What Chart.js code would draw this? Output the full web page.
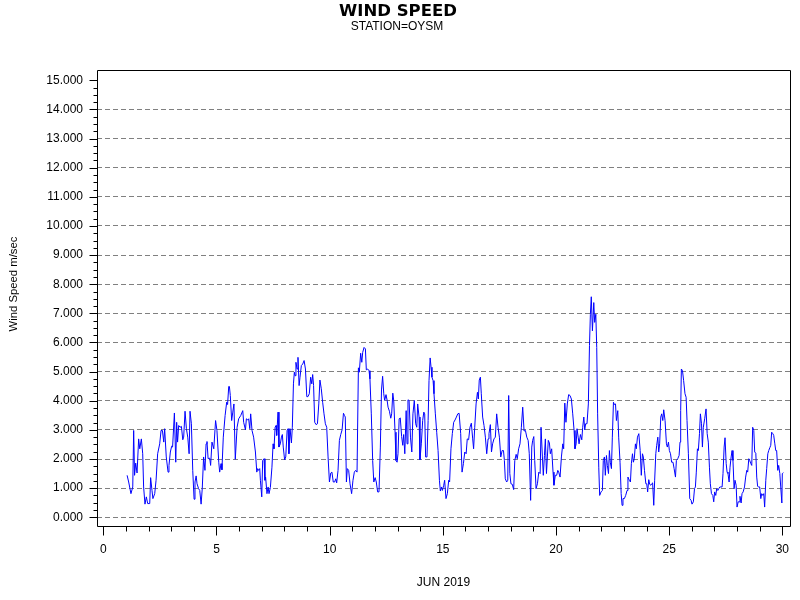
<!DOCTYPE html>
<html>
<head>
<meta charset="utf-8">
<script src="https://cdn.jsdelivr.net/npm/chart.js@4.4.1/dist/chart.umd.min.js"></script>
<style>
html,body{margin:0;padding:0;background:#ffffff;}
#wrap{width:800px;height:600px;}
</style>
</head>
<body>
<div id="wrap"><canvas id="c" width="800" height="600"></canvas></div>
<script>
const titleText = "WIND SPEED";
const subtitleText = "STATION=OYSM";
const xAxisTitle = "JUN 2019";
const yAxisTitle = "Wind Speed m/sec";

const xTickValues = [0, 5, 10, 15, 20, 25, 30];
const yTickValues = [0, 1, 2, 3, 4, 5, 6, 7, 8, 9, 10, 11, 12, 13, 14, 15];

// day of month (June 2019)
const days = [
1.05,1.12,1.22,1.30,1.34,1.38,1.43,1.49,1.56,1.61,1.68,1.74,1.78,1.84,1.90,1.96,2.05,2.09,2.15,2.19,2.27,2.33,2.40,2.49,2.55,2.61,2.67,2.71,2.78,2.86,2.90,2.96,3.02,3.06,3.14,3.20,3.24,3.28,3.33,3.39,3.45,3.51,3.55,3.61,3.67,3.73,3.79,3.83,3.89,3.95,4.01,4.05,4.10,4.14,4.21,4.26,4.32,4.37,4.43,4.49,4.54,4.58,4.63,4.70,4.74,4.80,4.88,4.96,5.02,5.10,5.14,5.20,5.24,5.30,5.38,5.45,5.49,5.54,
5.57,5.61,5.67,5.72,5.77,5.83,5.91,5.98,6.07,6.16,6.20,6.28,6.32,6.38,6.42,6.47,6.51,6.57,6.64,6.72,6.78,6.82,6.86,6.91,6.94,7.00,7.04,7.10,7.14,7.17,7.23,7.28,7.32,7.38,7.45,7.50,7.54,7.59,7.63,7.66,7.72,7.76,7.82,7.87,7.91,7.95,8.01,8.06,8.12,8.16,8.20,8.25,8.31,8.35,8.40,8.44,8.47,8.51,8.56,8.60,8.65,8.69,8.75,8.81,8.87,8.93,8.99,9.04,9.10,9.16,9.21,9.25,9.29,9.34,9.40,9.46,9.52,9.57,9.63,9.69,9.75,9.81,9.87,9.93,9.99,10.05,10.10,10.16,10.22,10.27,10.31,10.37,10.43,10.49,10.55,10.61,10.66,
10.69,10.74,10.78,10.84,10.90,10.97,11.03,11.09,11.15,11.21,11.27,11.31,11.37,11.42,11.46,11.52,11.58,11.62,11.68,11.74,11.78,11.84,11.90,11.95,12.01,12.06,12.12,12.18,12.24,12.29,12.34,12.39,12.43,12.49,12.54,12.58,12.64,12.70,12.74,12.79,12.83,12.89,12.93,12.98,13.02,13.07,13.12,13.18,13.23,13.27,13.32,13.38,13.42,13.46,13.51,13.57,13.63,13.68,13.74,13.80,13.85,13.89,13.95,13.99,14.05,14.11,14.16,14.20,14.24,14.30,14.35,14.39,14.44,14.48,14.52,14.57,14.61,14.67,14.73,14.79,14.85,14.89,14.94,14.98,15.04,15.08,15.14,15.20,15.26,15.30,15.36,15.42,15.48,15.54,15.60,15.66,15.72,
15.79,15.85,15.91,15.97,16.03,16.08,16.14,16.20,16.26,16.32,16.36,16.41,16.47,16.53,16.57,16.61,16.66,16.70,16.76,16.82,16.88,16.94,17.00,17.04,17.10,17.15,17.20,17.26,17.32,17.38,17.44,17.50,17.56,17.62,17.68,17.72,17.76,17.82,17.87,17.91,17.96,18.01,18.07,18.13,18.18,18.24,18.29,18.35,18.41,18.47,18.53,18.59,18.65,18.71,18.77,18.82,18.88,18.93,18.97,19.02,19.06,19.12,19.18,19.24,19.30,19.34,19.40,19.44,19.49,19.53,19.58,19.62,19.66,19.71,19.75,19.81,19.87,19.91,19.97,20.03,20.08,20.12,20.18,20.24,20.30,20.34,20.39,20.44,20.50,20.56,20.62,20.68,20.74,20.80,20.84,
20.89,20.93,20.98,21.02,21.08,21.14,21.18,21.23,21.27,21.31,21.37,21.43,21.48,21.52,21.56,21.61,21.67,21.71,21.76,21.80,21.84,21.89,21.93,21.99,22.05,22.09,22.14,22.18,22.23,22.27,22.32,22.36,22.40,22.45,22.49,22.54,22.58,22.63,22.67,22.73,22.77,22.83,22.88,22.92,22.96,23.02,23.08,23.14,23.18,23.24,23.29,23.33,23.38,23.42,23.46,23.51,23.55,23.60,23.66,23.72,23.77,23.82,23.86,23.91,23.97,24.01,24.05,24.10,24.14,24.19,24.23,24.27,24.32,24.36,24.41,24.45,24.50,24.54,24.58,24.63,24.67,24.72,24.76,24.82,24.88,24.92,24.97,25.01,25.06,25.11,25.17,25.22,25.28,25.32,25.38,25.44,25.48,25.51,25.54,25.59,25.64,25.70,25.75,25.79,25.85,
25.91,25.97,26.01,26.07,26.12,26.16,26.20,26.25,26.29,26.34,26.38,26.43,26.47,26.51,26.57,26.63,26.68,26.73,26.78,26.82,26.87,26.93,26.97,27.01,27.06,27.10,27.15,27.19,27.24,27.28,27.34,27.38,27.43,27.47,27.52,27.56,27.60,27.65,27.69,27.74,27.78,27.82,27.87,27.91,27.96,28.00,28.05,28.09,28.13,28.18,28.22,28.27,28.33,28.38,28.43,28.47,28.52,28.56,28.61,28.65,28.69,28.74,28.78,28.83,28.87,28.91,28.96,29.00,29.05,29.09,29.14,29.18,29.22,29.27,29.31,29.36,29.40,29.45,29.49,29.53,29.58,29.62,29.67,29.71,29.75,29.80,29.84,29.89,29.93,29.98,30.00,30.05
];

// wind speed, m/sec
const speed = [
1.44,1.21,0.81,1.04,2.98,1.44,1.86,1.52,2.69,2.35,2.69,2.18,1.04,0.45,0.70,0.47,0.47,1.36,0.92,0.64,0.81,1.27,2.18,2.52,2.98,2.98,2.58,3.04,2.07,1.55,1.78,2.24,2.44,2.41,3.58,1.89,3.26,2.58,3.15,3.09,3.12,2.66,2.75,3.64,3.04,2.75,2.18,3.64,3.21,1.61,0.62,1.21,1.42,1.15,0.98,0.92,0.45,0.98,2.07,1.61,2.52,2.60,2.01,2.03,1.78,2.58,2.35,3.32,2.98,1.89,1.55,1.84,1.63,2.75,3.49,3.95,3.87,4.49,
4.49,4.18,3.32,3.61,3.89,1.99,3.09,3.38,3.49,3.66,3.26,3.00,3.38,3.34,3.38,3.04,3.55,2.98,2.75,2.24,1.55,1.67,1.61,1.67,1.27,0.70,1.95,2.01,1.27,1.38,0.81,1.04,0.81,1.02,1.72,2.52,2.35,3.09,3.15,2.81,3.61,2.41,2.52,2.75,2.84,2.41,1.97,2.07,2.98,3.04,2.18,3.04,2.55,3.09,4.58,4.98,4.86,5.32,5.09,5.49,4.52,4.81,5.21,5.26,5.38,5.09,4.14,4.14,4.24,4.81,4.58,4.90,4.52,3.26,3.18,3.21,3.89,4.71,4.41,3.95,3.55,3.21,3.09,2.07,1.21,1.52,1.55,1.21,1.21,1.32,1.18,1.61,2.64,2.84,3.00,3.57,3.49,
3.44,1.21,1.67,1.61,1.15,0.81,1.27,1.55,1.61,1.55,5.13,4.98,5.63,5.32,5.66,5.83,5.78,5.06,5.09,5.03,4.75,3.55,1.95,1.21,1.36,1.21,0.87,0.87,2.41,4.37,4.84,4.24,4.01,4.21,4.01,3.78,3.64,3.40,3.55,4.26,4.01,2.92,1.95,1.89,2.18,3.38,3.41,2.77,2.47,2.84,2.18,3.66,2.52,4.03,4.01,2.75,2.24,3.55,4.01,3.21,3.09,3.89,3.44,1.97,2.52,3.32,3.61,3.55,2.07,2.07,3.32,4.69,5.47,5.15,4.81,4.69,4.24,3.55,2.92,2.29,1.27,0.90,1.04,0.92,1.10,1.27,0.64,0.81,1.27,1.21,2.35,2.87,3.26,3.34,3.44,3.55,3.57,
2.87,1.55,1.84,2.24,2.18,2.69,2.66,3.09,3.23,2.69,2.35,3.09,3.89,4.29,4.06,4.71,4.81,4.24,3.44,3.15,2.75,2.18,2.69,2.87,3.18,2.24,2.52,2.69,2.75,3.55,3.09,2.75,2.07,2.29,2.29,1.95,1.32,1.21,1.27,4.18,1.50,1.15,1.13,0.95,1.95,2.16,2.01,2.35,2.52,3.09,3.78,2.96,2.98,2.75,2.64,2.18,0.58,2.41,2.64,2.77,1.95,0.98,1.15,1.55,1.50,3.09,2.07,1.44,2.12,2.69,1.50,2.07,2.64,2.55,2.18,2.35,1.55,1.10,1.44,1.44,1.61,1.55,1.38,2.07,2.52,2.35,3.92,3.26,3.89,4.21,4.18,4.06,3.55,2.98,2.35,
2.52,3.04,2.75,2.52,2.84,2.66,3.09,3.44,3.00,3.21,3.21,3.89,5.89,6.97,7.57,6.40,7.37,6.69,6.97,5.83,3.55,1.72,0.75,0.87,0.92,1.95,2.07,1.44,2.12,1.78,1.50,2.29,1.89,1.67,2.75,3.95,3.87,3.89,3.32,3.66,2.75,1.89,0.81,0.41,0.64,0.64,0.75,0.92,1.38,1.27,1.21,1.84,2.18,1.89,2.01,2.52,2.35,2.75,2.87,2.29,1.44,2.18,2.07,1.61,1.15,1.15,0.87,1.29,1.13,1.10,1.15,1.18,0.41,1.27,2.18,2.47,2.75,2.24,2.52,3.44,3.55,3.32,3.69,3.32,2.52,2.41,2.58,2.29,2.18,1.89,1.89,1.67,1.38,1.95,2.01,2.12,2.58,3.66,5.09,5.03,4.69,4.24,4.12,3.32,2.18,
0.64,0.58,0.45,0.53,0.98,1.04,1.55,2.35,2.29,2.87,3.55,3.21,2.41,3.09,3.38,3.72,2.87,2.58,1.72,1.15,0.81,0.75,0.53,0.87,0.75,0.98,0.92,0.98,1.04,1.04,1.04,1.50,2.41,2.73,1.84,1.55,1.50,1.21,1.72,2.07,2.29,1.95,0.98,1.27,1.10,0.35,0.53,0.53,0.72,0.49,0.81,0.87,1.04,1.38,1.61,1.55,2.01,1.95,1.84,1.78,3.09,2.98,2.24,2.20,1.38,1.06,1.04,1.04,0.64,0.81,0.75,0.81,0.35,1.27,1.67,2.18,2.29,2.39,2.47,2.92,2.87,2.81,2.52,2.29,2.29,1.61,1.78,1.50,1.04,0.49,1.50,1.53
];

const FONT = "'Liberation Sans', Arial, Helvetica, sans-serif";

const decor = {
  id: 'decor',
  afterDraw(chart) {
    const ctx = chart.ctx;
    const a = chart.chartArea;
    const xs = chart.scales.x, ys = chart.scales.y;
    ctx.save();
    // frame
    ctx.strokeStyle = '#000000';
    ctx.lineWidth = 1;
    ctx.beginPath();
    ctx.rect(a.left + 0.5, a.top - 0.5, a.right - a.left, a.bottom - a.top + 1);
    ctx.stroke();
    // y ticks: major every 1, minor every 0.25
    ctx.beginPath();
    for (let i = 0; i <= 60; i++) {
      const v = i / 4;
      const py = Math.round(ys.getPixelForValue(v)) + 0.5;
      const len = (i % 4 === 0) ? 8 : 4;
      ctx.moveTo(a.left + 0.5 - len, py);
      ctx.lineTo(a.left + 0.5, py);
    }
    // x ticks: major every 5 days, minor every day
    for (let d = 0; d <= 30; d++) {
      const px = Math.round(xs.getPixelForValue(d)) + 0.5;
      const len = (d % 5 === 0) ? 9 : 5;
      ctx.moveTo(px, a.bottom + 0.5);
      ctx.lineTo(px, a.bottom + 0.5 + len);
    }
    ctx.stroke();
    // texts
    ctx.fillStyle = '#000000';
    ctx.textAlign = 'center';
    ctx.textBaseline = 'alphabetic';
    ctx.font = "bold 16.5px 'DejaVu Sans', sans-serif";
    ctx.fillText(titleText, 398, 16);
    ctx.font = "12px " + FONT;
    ctx.fillText(subtitleText, 397, 29.5);
    ctx.fillText(xAxisTitle, (a.left + a.right) / 2, 586);
    ctx.save();
    ctx.translate(16.5, 284);
    ctx.rotate(-Math.PI / 2);
    ctx.font = "11.3px " + FONT;
    ctx.fillText(yAxisTitle, 0, 0);
    ctx.restore();
    ctx.restore();
  }
};

new Chart(document.getElementById('c').getContext('2d'), {
  type: 'line',
  data: {
    datasets: [{
      data: days.map((d, i) => ({ x: d, y: speed[i] })),
      borderColor: '#0000ff',
      borderWidth: 1,
      pointRadius: 0,
      tension: 0,
      fill: false
    }]
  },
  options: {
    responsive: false,
    animation: false,
    devicePixelRatio: 1,
    layout: { padding: { left: 0, top: 71, right: 10, bottom: 0 } },
    plugins: { legend: { display: false }, title: { display: false }, tooltip: { enabled: false } },
    scales: {
      x: {
        type: 'linear',
        min: -0.28,
        max: 30.34,
        afterFit(s) { s.height = 74; s.paddingLeft = 0; s.paddingRight = 0; },
        afterBuildTicks(s) { s.ticks = xTickValues.map(v => ({ value: v })); },
        ticks: {
          padding: 16,
          color: '#000000',
          font: { family: FONT, size: 12 },
          maxRotation: 0,
          autoSkip: false,
          callback: v => String(v)
        },
        grid: { display: false, drawTicks: false },
        border: { display: false }
      },
      y: {
        type: 'linear',
        min: -0.3,
        max: 15.32,
        afterFit(s) { s.width = 97; s.paddingTop = 0; s.paddingBottom = 0; },
        afterBuildTicks(s) { s.ticks = yTickValues.map(v => ({ value: v })); },
        ticks: {
          padding: 14,
          color: '#000000',
          font: { family: FONT, size: 12 },
          autoSkip: false,
          callback: v => Number(v).toFixed(3)
        },
        grid: {
          drawTicks: false,
          lineWidth: 1,
          color: c => (c.tick && c.tick.value === 15) ? 'rgba(0,0,0,0)' : '#808080'
        },
        border: { display: false, dash: [5, 3] }
      }
    }
  },
  plugins: [decor]
});
</script>
</body>
</html>
